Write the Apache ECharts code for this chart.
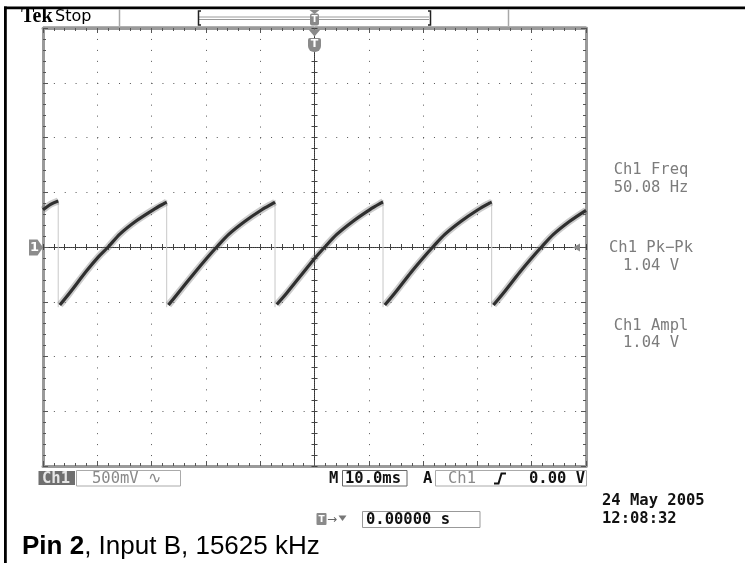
<!DOCTYPE html>
<html><head><meta charset="utf-8">
<script src="https://cdn.jsdelivr.net/npm/echarts@6/dist/echarts.min.js"></script>
<style>html,body{margin:0;padding:0;background:#fff}#c{width:745px;height:563px}</style>
</head><body><div id="c"></div>
<script>
// ---- data (time in ms, voltage in V) ----
const dropTimes = [-47.2, -27.22, -7.27, 12.62, 32.63];
const dropHigh  = [0.43, 0.43, 0.43, 0.43, 0.43];
const dropLow   = [-0.55, -0.55, -0.55, -0.55, -0.55];
const rampTimes = [
  [-50.0, -48.6, -47.2],
  [-46.9, -45.1, -42.0, -39.8, -38.0, -35.8, -32.8, -29.7, -27.6, -27.22],
  [-26.9, -25.1, -22.0, -19.8, -18.0, -15.8, -12.8, -9.7, -7.6, -7.27],
  [-6.95, -5.1, -2.1, 0.1, 1.9, 4.1, 7.1, 10.2, 12.3, 12.62],
  [12.95, 14.8, 17.8, 20.0, 21.8, 24.0, 27.0, 30.1, 32.2, 32.63],
  [32.95, 34.8, 37.8, 40.0, 41.8, 44.0, 47.0, 50.0]
];
const rampVolts = [
  [0.34, 0.39, 0.42],
  [-0.53, -0.42, -0.22, -0.09, 0.0, 0.12, 0.24, 0.34, 0.40, 0.41],
  [-0.53, -0.42, -0.23, -0.10, 0.0, 0.115, 0.235, 0.34, 0.40, 0.41],
  [-0.525, -0.42, -0.235, -0.10, 0.0, 0.115, 0.236, 0.342, 0.403, 0.41],
  [-0.53, -0.42, -0.23, -0.10, 0.0, 0.115, 0.235, 0.34, 0.40, 0.41],
  [-0.53, -0.42, -0.23, -0.10, 0.0, 0.115, 0.235, 0.335]
];
const timeRange = [-50, 50], timeDiv = 10;   // 10 ms/div
const voltRange = [-2, 2], voltDiv = 0.5;    // 500 mV/div
const measureLabels = ['Ch1 Freq', 'Ch1 Pk\u2212Pk', 'Ch1 Ampl'];
const measureValues = ['50.08 Hz', '1.04 V', '1.04 V'];
const chLabel = 'Ch1', chScale = '500mV \u223F';
const timebase = '10.0ms', trigSrc = 'Ch1', trigLevel = '0.00 V';
const trigPos = '0.00000 s';
const dateText = '24 May 2005', timeText = '12:08:32';
const caption = ['Pin 2', ', Input B, 15625 kHz'];

// ---- build series data ----
const rampData = [];
rampTimes.forEach((ts, i) => {
  ts.forEach((t, j) => rampData.push([t, rampVolts[i][j]]));
  rampData.push(['-', '-']);
});
const dropData = [];
dropTimes.forEach((t, i) => {
  dropData.push([t, dropHigh[i]], [t, dropLow[i]], ['-', '-']);
});

const GL = 43, GT = 28, GW = 543, GH = 438;
const mono = "'DejaVu Sans Mono', monospace";
const monoB = 'bold 15.5px ' + mono, monoN = '15.5px ' + mono;

function txt(x, y, s, font, fill, align) {
  return {type: 'text', z: 100, style: {x: x, y: y, text: s, font: font, fill: fill,
    textAlign: align || 'left', textVerticalAlign: 'middle'}};
}
function rect(x, y, w, h, fill, stroke, lw, r) {
  return {type: 'rect', z: 100, shape: {x: x, y: y, width: w, height: h, r: r || 0},
    style: {fill: fill || 'none', stroke: stroke || null, lineWidth: lw || 0}};
}
function seg(x1, y1, x2, y2, stroke, lw) {
  return {type: 'line', z: 100, shape: {x1: x1, y1: y1, x2: x2, y2: y2},
    style: {stroke: stroke, lineWidth: lw || 1}};
}
function poly(points, fill) {
  return {type: 'polygon', z: 100, shape: {points: points}, style: {fill: fill}};
}
function polyline(points, stroke, lw) {
  return {type: 'polyline', z: 100, shape: {points: points}, style: {stroke: stroke, lineWidth: lw, fill: 'none'}};
}

const hidden = {show: false};
function centerX(inside, split) {
  return {type: 'value', min: timeRange[0], max: timeRange[1], interval: timeDiv, position: 'bottom',
    axisLine: {show: true, onZero: true, lineStyle: {color: '#333', width: 1, type: [1, 1]}},
    axisTick: {show: true, inside: inside, length: 3, lineStyle: {color: '#444'}},
    minorTick: {show: true, splitNumber: 5, length: 3, lineStyle: {color: '#444'}},
    axisLabel: hidden,
    splitLine: split ? {show: true, lineStyle: {color: '#555', width: 1, type: [1, 9.95]}} : hidden};
}
function centerY(inside, split) {
  return {type: 'value', min: voltRange[0], max: voltRange[1], interval: voltDiv, position: 'left',
    axisLine: {show: true, onZero: true, lineStyle: {color: '#333', width: 1, type: [1, 1]}},
    axisTick: {show: true, inside: inside, length: 3, lineStyle: {color: '#444'}},
    minorTick: {show: true, splitNumber: 5, length: 3, lineStyle: {color: '#444'}},
    axisLabel: hidden,
    splitLine: split ? {show: true, lineStyle: {color: '#555', width: 1, type: [1, 9.86]}} : hidden};
}
function edgeX(pos) {
  return {type: 'value', min: timeRange[0], max: timeRange[1], interval: timeDiv, position: pos,
    axisLine: {show: true, onZero: false, lineStyle: {color: '#9a9a9a', width: 3}},
    axisTick: {show: true, inside: true, length: 5, lineStyle: {color: '#555'}},
    minorTick: {show: true, splitNumber: 5, length: 3, lineStyle: {color: '#555'}},
    axisLabel: hidden, splitLine: hidden};
}
function edgeY(pos) {
  return {type: 'value', min: voltRange[0], max: voltRange[1], interval: voltDiv, position: pos,
    axisLine: {show: true, onZero: false, lineStyle: {color: '#9a9a9a', width: 3}},
    axisTick: {show: true, inside: true, length: 5, lineStyle: {color: '#555'}},
    minorTick: {show: true, splitNumber: 5, length: 3, lineStyle: {color: '#555'}},
    axisLabel: hidden, splitLine: hidden};
}

const graphics = [
  // outer frame
  rect(4, 6.5, 741, 2.8, '#000'),
  rect(4, 6.5, 2.8, 557, '#000'),
  // header
  txt(21, 17, 'Tek', "bold 20px 'Liberation Serif', serif", '#000'),
  txt(55, 16.5, 'Stop', "16px 'DejaVu Sans', sans-serif", '#000'),
  seg(119.5, 9, 119.5, 27, '#a8a8a8', 1.5),
  seg(508.5, 9, 508.5, 27, '#a8a8a8', 1.5),
  seg(43, 26.5, 586, 26.5, '#b0b0b0', 1),
  // trigger position bar
  seg(199, 17, 429, 17, '#9a9a9a', 1),
  seg(199, 19.5, 429, 19.5, '#9a9a9a', 1),
  polyline([[201, 11], [198.5, 11], [198.5, 25], [201, 25]], '#222', 1.5),
  polyline([[428, 11], [430.5, 11], [430.5, 25], [428, 25]], '#222', 1.5),
  poly([[309.5, 10], [319.5, 10], [314.5, 14]], '#8a8a8a'),
  rect(310, 13.5, 9, 12, '#8a8a8a', null, 0, 2),
  txt(314.5, 19.5, 'T', "bold 9px 'DejaVu Sans', sans-serif", '#fff', 'center'),
  // trigger marker under top edge
  poly([[308.5, 29.5], [320.5, 29.5], [314.5, 36.5]], '#8a8a8a'),
  rect(308, 38, 13, 14, '#8a8a8a', null, 0, [2, 2, 6, 6]),
  txt(314.5, 44.5, 'T', "bold 11px 'DejaVu Sans', sans-serif", '#fff', 'center'),
  // channel 1 ground marker
  poly([[29, 239.5], [37.5, 239.5], [43, 247.5], [37.5, 255.5], [29, 255.5]], '#8c8c8c'),
  txt(34.5, 248, '1', "bold 13px 'DejaVu Sans', sans-serif", '#fff', 'center'),
  // trigger level arrow
  poly([[573, 247.5], [580, 243.5], [580, 251.5]], '#8a8a8a'),
  // measurements
  txt(651, 170, measureLabels[0], monoN, '#7c7c7c', 'center'),
  txt(651, 188, measureValues[0], monoN, '#7c7c7c', 'center'),
  txt(651, 248, measureLabels[1], monoN, '#7c7c7c', 'center'),
  txt(651, 266, measureValues[1], monoN, '#7c7c7c', 'center'),
  txt(651, 326, measureLabels[2], monoN, '#7c7c7c', 'center'),
  txt(651, 343, measureValues[2], monoN, '#7c7c7c', 'center'),
  // status row
  rect(38.5, 471, 36.5, 14, '#6f6f6f'),
  txt(42, 478.5, chLabel, monoB, '#e6e6e6'),
  rect(76.5, 470.5, 104, 15.5, '#fff', '#aaaaaa', 1),
  txt(92, 478.5, chScale, monoN, '#8a8a8a'),
  txt(329, 478.5, 'M', monoB, '#111'),
  rect(342.5, 470.5, 64.5, 15.5, '#fff', '#666', 1),
  txt(345, 478.5, timebase, monoB, '#111'),
  txt(423, 478.5, 'A', monoB, '#111'),
  rect(435.5, 470.5, 151, 15.5, '#fff', '#aaaaaa', 1),
  txt(448, 478.5, trigSrc, monoN, '#8a8a8a'),
  polyline([[494, 483.5], [498.5, 483.5], [501.5, 473.5], [506, 473.5]], '#111', 2),
  txt(585, 478.5, trigLevel, monoB, '#111', 'right'),
  // trigger position row
  rect(316.5, 513, 10, 12, '#8a8a8a', null, 0, 1),
  txt(321.5, 519.5, 'T', "bold 9px 'DejaVu Sans', sans-serif", '#fff', 'center'),
  txt(327, 519.5, '\u2192', "12px 'DejaVu Sans', sans-serif", '#666'),
  poly([[338.5, 515.5], [346.5, 515.5], [342.5, 521]], '#777'),
  rect(362.5, 511.5, 117.5, 16, '#fff', '#999', 1),
  txt(366, 519.5, trigPos, monoB, '#111'),
  // timestamp
  txt(602, 501, dateText, monoB, '#111'),
  txt(602, 519, timeText, monoB, '#111'),
  // caption
  {type: 'text', z: 100, style: {x: 22, y: 547, text: '{b|' + caption[0] + '}{n|' + caption[1] + '}',
    textVerticalAlign: 'middle', textAlign: 'left',
    rich: {b: {font: "bold 26px 'Liberation Sans', Arial, sans-serif", fill: '#000'},
           n: {font: "26px 'Liberation Sans', Arial, sans-serif", fill: '#000'}}}}
];

const chart = echarts.init(document.getElementById('c'), null, {renderer: 'canvas'});
chart.setOption({
  animation: false,
  backgroundColor: '#ffffff',
  grid: {left: GL, top: GT, width: GW, height: GH, containLabel: false, outerBoundsMode: 'none', show: false},
  xAxis: [centerX(false, true), centerX(true, false), edgeX('top'), edgeX('bottom')],
  yAxis: [centerY(false, true), centerY(true, false), edgeY('left'), edgeY('right')],
  series: [
    {type: 'line', xAxisIndex: 0, yAxisIndex: 0, data: dropData, symbol: 'none', connectNulls: false,
      lineStyle: {color: '#c8c8c8', width: 1}, z: 3},
    {type: 'line', xAxisIndex: 0, yAxisIndex: 0, data: rampData, symbol: 'none', connectNulls: false,
      smooth: 0.3, lineStyle: {color: 'rgba(110,110,110,0.35)', width: 7}, z: 4},
    {type: 'line', xAxisIndex: 0, yAxisIndex: 0, data: rampData, symbol: 'none', connectNulls: false,
      smooth: 0.3, lineStyle: {color: '#2f2f2f', width: 3.2}, z: 5}
  ],
  graphic: graphics
});
</script></body></html>
